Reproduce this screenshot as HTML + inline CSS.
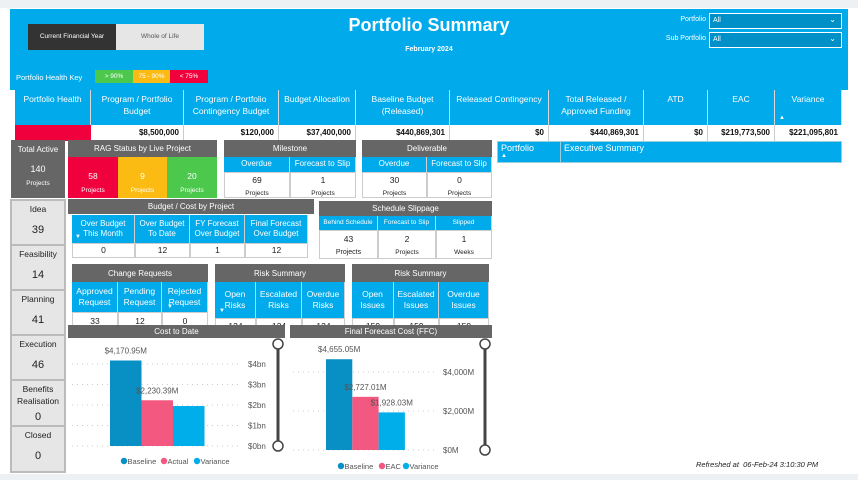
<!DOCTYPE html>
<html><head><meta charset="utf-8">
<style>
body{margin:0;width:858px;height:480px;background:#fff;position:relative;overflow:hidden;font-family:"Liberation Sans",sans-serif;}
.a{position:absolute;box-sizing:border-box;}
.hd{background:#666;color:#fff;font-size:8px;text-align:center;display:flex;align-items:center;justify-content:center;}
.bl{background:#00aaeb;color:#fff;font-size:8px;text-align:center;display:flex;align-items:center;justify-content:center;line-height:1.3;border-right:1px solid #d0d0d0;}
.wc{background:#fff;color:#222;font-size:8.5px;text-align:center;border:1px solid #ccc;}
.th{background:#00aaeb;color:#fff;font-size:8.5px;text-align:center;border-right:1px solid #d8d8d8;padding-top:4px;line-height:1.4;}
.tv{background:#fff;color:#111;font-size:8px;font-weight:bold;text-align:right;padding-right:4px;line-height:16px;border-right:1px solid #ccc;}
.st{background:#e6e6e6;border:1px solid #bbb;font-size:8.5px;color:#222;text-align:center;}
.sm{font-size:6.5px;}
</style></head><body>
<div class="a" style="left:0;top:0;width:858px;height:8px;background:#eef1f4"></div>
<div class="a" style="left:0;top:474px;width:858px;height:6px;background:#eef1f4"></div>
<div class="a" style="left:10px;top:9px;width:838px;height:81px;background:#00aaeb"></div>
<div class="a" style="left:28px;top:24px;width:88px;height:26px;background:#333;color:#fff;font-size:6.5px;text-align:center;line-height:26px">Current Financial Year</div>
<div class="a" style="left:116px;top:24px;width:88px;height:26px;background:#e6e6e6;color:#555;font-size:6.5px;text-align:center;line-height:26px">Whole of Life</div>
<div class="a" style="left:0;top:15px;width:858px;text-align:center;color:#fff;font-size:18px;font-weight:bold">Portfolio Summary</div>
<div class="a" style="left:0;top:46px;width:858px;text-align:center;color:#fff;font-size:7px;font-weight:bold">February 2024</div>
<div class="a" style="left:16px;top:73px;color:#fff;font-size:7.5px">Portfolio Health Key</div>
<div class="a" style="left:95px;top:70px;width:38px;height:13px;background:#4cc84c;color:#fff;font-size:6.5px;text-align:center;line-height:13px">&gt; 90%</div>
<div class="a" style="left:133px;top:70px;width:37px;height:13px;background:#fcbb12;color:#fff;font-size:6.5px;text-align:center;line-height:13px">75 - 90%</div>
<div class="a" style="left:170px;top:70px;width:38px;height:13px;background:#f0003c;color:#fff;font-size:6.5px;text-align:center;line-height:13px">&lt; 75%</div>
<div class="a" style="left:640px;top:16px;width:66px;text-align:right;color:#fff;font-size:7px">Portfolio</div>
<div class="a" style="left:709px;top:13px;width:133px;height:16px;background:#0090c8;border:1px solid #fff;color:#fff;font-size:7px;padding:3px 3px">All<span style="position:absolute;right:5px;top:1px;font-size:8px">&#8964;</span></div>
<div class="a" style="left:640px;top:35px;width:66px;text-align:right;color:#fff;font-size:7px">Sub Portfolio</div>
<div class="a" style="left:709px;top:32px;width:133px;height:16px;background:#0090c8;border:1px solid #fff;color:#fff;font-size:7px;padding:3px 3px">All<span style="position:absolute;right:5px;top:1px;font-size:8px">&#8964;</span></div>

<div class="a" style="left:15px;top:90px;width:827px;height:51px;border:1px solid #ccc"></div>
<div class="a th" style="left:15px;top:90px;width:76px;height:35px">Portfolio Health</div>
<div class="a th" style="left:91px;top:90px;width:93px;height:35px">Program / Portfolio<br>Budget</div>
<div class="a th" style="left:184px;top:90px;width:95px;height:35px">Program / Portfolio<br>Contingency Budget</div>
<div class="a th" style="left:279px;top:90px;width:77px;height:35px">Budget Allocation</div>
<div class="a th" style="left:356px;top:90px;width:94px;height:35px">Baseline Budget<br>(Released)</div>
<div class="a th" style="left:450px;top:90px;width:99px;height:35px">Released Contingency</div>
<div class="a th" style="left:549px;top:90px;width:95px;height:35px">Total Released /<br>Approved Funding</div>
<div class="a th" style="left:644px;top:90px;width:64px;height:35px">ATD</div>
<div class="a th" style="left:708px;top:90px;width:67px;height:35px">EAC</div>
<div class="a th" style="left:775px;top:90px;width:67px;height:35px">Variance<div style="position:absolute;left:4px;top:24px;font-size:6px">&#9650;</div></div>
<div class="a" style="left:15px;top:125px;width:76px;height:16px;background:#f0003c"></div>
<div class="a tv" style="left:91px;top:125px;width:93px;height:16px">$8,500,000</div>
<div class="a tv" style="left:184px;top:125px;width:95px;height:16px">$120,000</div>
<div class="a tv" style="left:279px;top:125px;width:77px;height:16px">$37,400,000</div>
<div class="a tv" style="left:356px;top:125px;width:94px;height:16px">$440,869,301</div>
<div class="a tv" style="left:450px;top:125px;width:99px;height:16px">$0</div>
<div class="a tv" style="left:549px;top:125px;width:95px;height:16px">$440,869,301</div>
<div class="a tv" style="left:644px;top:125px;width:64px;height:16px">$0</div>
<div class="a tv" style="left:708px;top:125px;width:67px;height:16px">$219,773,500</div>
<div class="a tv" style="left:775px;top:125px;width:67px;height:16px;border-right:none">$221,095,801</div>

<div class="a" style="left:11px;top:140px;width:54px;height:58px;background:#666;color:#fff;text-align:center"><div style="font-size:8px;margin-top:5px">Total Active</div><div style="font-size:9px;margin-top:10px">140</div><div class="sm" style="margin-top:6px">Projects</div></div>

<div class="a hd" style="left:68px;top:140px;width:149px;height:17px">RAG Status by Live Project</div>
<div class="a" style="left:68px;top:157px;width:50px;height:41px;background:#f0003c;color:#fff;text-align:center"><div style="font-size:8.5px;margin-top:14px">58</div><div class="sm" style="margin-top:6px">Projects</div></div>
<div class="a" style="left:118px;top:157px;width:49px;height:41px;background:#fcbb12;color:#fff;text-align:center"><div style="font-size:8.5px;margin-top:14px">9</div><div class="sm" style="margin-top:6px">Projects</div></div>
<div class="a" style="left:167px;top:157px;width:50px;height:41px;background:#4cc84c;color:#fff;text-align:center"><div style="font-size:8.5px;margin-top:14px">20</div><div class="sm" style="margin-top:6px">Projects</div></div>

<div class="a hd" style="left:224px;top:140px;width:132px;height:17px">Milestone</div>
<div class="a bl" style="left:224px;top:157px;width:66px;height:15px">Overdue</div>
<div class="a bl" style="left:290px;top:157px;width:66px;height:15px">Forecast to Slip</div>
<div class="a wc" style="left:224px;top:172px;width:66px;height:26px"><div style="margin-top:2px">69</div><div class="sm" style="margin-top:5px">Projects</div></div>
<div class="a wc" style="left:290px;top:172px;width:66px;height:26px"><div style="margin-top:2px">1</div><div class="sm" style="margin-top:5px">Projects</div></div>

<div class="a hd" style="left:362px;top:140px;width:130px;height:17px">Deliverable</div>
<div class="a bl" style="left:362px;top:157px;width:65px;height:15px">Overdue</div>
<div class="a bl" style="left:427px;top:157px;width:65px;height:15px">Forecast to Slip</div>
<div class="a wc" style="left:362px;top:172px;width:65px;height:26px"><div style="margin-top:2px">30</div><div class="sm" style="margin-top:5px">Projects</div></div>
<div class="a wc" style="left:427px;top:172px;width:65px;height:26px"><div style="margin-top:2px">0</div><div class="sm" style="margin-top:5px">Projects</div></div>

<div class="a" style="left:497px;top:141px;width:345px;height:22px;background:#00aaeb;border:1px solid #9cd"></div>
<div class="a" style="left:501px;top:143px;color:#fff;font-size:9px">Portfolio<div style="font-size:6px">&#9650;</div></div>
<div class="a" style="left:560px;top:141px;width:1px;height:22px;background:#9cd"></div>
<div class="a" style="left:564px;top:143px;color:#fff;font-size:9px">Executive Summary</div>

<div class="a" style="left:10px;top:199px;width:56px;height:274px;background:#ddd;border:1px solid #bbb"></div>
<div class="a st" style="left:11px;top:200px;width:54px;height:45px"><div style="margin-top:3px">Idea</div><div style="font-size:11px;margin-top:10px">39</div></div>
<div class="a st" style="left:11px;top:245px;width:54px;height:45px"><div style="margin-top:3px">Feasibility</div><div style="font-size:11px;margin-top:10px">14</div></div>
<div class="a st" style="left:11px;top:290px;width:54px;height:45px"><div style="margin-top:3px">Planning</div><div style="font-size:11px;margin-top:10px">41</div></div>
<div class="a st" style="left:11px;top:335px;width:54px;height:45px"><div style="margin-top:3px">Execution</div><div style="font-size:11px;margin-top:10px">46</div></div>
<div class="a st" style="left:11px;top:380px;width:54px;height:46px"><div style="margin-top:3px;line-height:1.4">Benefits<br>Realisation</div><div style="font-size:11px;margin-top:3px">0</div></div>
<div class="a st" style="left:11px;top:426px;width:54px;height:46px"><div style="margin-top:3px">Closed</div><div style="font-size:11px;margin-top:10px">0</div></div>

<div class="a hd" style="left:68px;top:199px;width:246px;height:15px">Budget / Cost by Project</div>
<div class="a bl" style="left:72px;top:215px;width:63px;height:28px">Over Budget<br>This Month<span style="position:absolute;left:3px;top:19px;font-size:6px">&#9660;</span></div>
<div class="a bl" style="left:135px;top:215px;width:55px;height:28px">Over Budget<br>To Date</div>
<div class="a bl" style="left:190px;top:215px;width:55px;height:28px">FY Forecast<br>Over Budget</div>
<div class="a bl" style="left:245px;top:215px;width:63px;height:28px">Final Forecast<br>Over Budget</div>
<div class="a wc" style="left:72px;top:243px;width:63px;height:15px;line-height:13px">0</div>
<div class="a wc" style="left:135px;top:243px;width:55px;height:15px;line-height:13px">12</div>
<div class="a wc" style="left:190px;top:243px;width:55px;height:15px;line-height:13px">1</div>
<div class="a wc" style="left:245px;top:243px;width:63px;height:15px;line-height:13px">12</div>

<div class="a hd" style="left:319px;top:201px;width:173px;height:15px">Schedule Slippage</div>
<div class="a bl" style="left:319px;top:216px;width:59px;height:14px;font-size:6.5px">Behind Schedule</div>
<div class="a bl" style="left:378px;top:216px;width:58px;height:14px;font-size:6.5px">Forecast to Slip</div>
<div class="a bl" style="left:436px;top:216px;width:56px;height:14px;font-size:6.5px">Slipped</div>
<div class="a wc" style="left:319px;top:230px;width:59px;height:29px"><div style="margin-top:3px">43</div><div style="font-size:7px;margin-top:5px">Projects</div></div>
<div class="a wc" style="left:378px;top:230px;width:58px;height:29px"><div style="margin-top:3px">2</div><div class="sm" style="margin-top:5px">Projects</div></div>
<div class="a wc" style="left:436px;top:230px;width:56px;height:29px"><div style="margin-top:3px">1</div><div class="sm" style="margin-top:5px">Weeks</div></div>

<div class="a hd" style="left:72px;top:264px;width:136px;height:18px">Change Requests</div>
<div class="a bl" style="left:72px;top:282px;width:46px;height:30px;font-size:8.5px">Approved<br>Request</div>
<div class="a bl" style="left:118px;top:282px;width:44px;height:30px;font-size:8.5px">Pending<br>Request</div>
<div class="a bl" style="left:162px;top:282px;width:46px;height:30px;font-size:8.5px">Rejected<br>Request<span style="position:absolute;left:5px;top:22px;font-size:6px">&#9660;</span></div>
<div class="a wc" style="left:72px;top:312px;width:46px;height:13px;line-height:16px;border-bottom:none">33</div>
<div class="a wc" style="left:118px;top:312px;width:44px;height:13px;line-height:16px;border-bottom:none">12</div>
<div class="a wc" style="left:162px;top:312px;width:46px;height:13px;line-height:16px;border-bottom:none">0</div>

<div class="a hd" style="left:215px;top:264px;width:130px;height:18px">Risk Summary</div>
<div class="a bl" style="left:215px;top:282px;width:41px;height:36px;font-size:8.5px">Open<br>Risks<span style="position:absolute;left:4px;top:26px;font-size:6px">&#9660;</span></div>
<div class="a bl" style="left:256px;top:282px;width:46px;height:36px;font-size:8.5px">Escalated<br>Risks</div>
<div class="a bl" style="left:302px;top:282px;width:43px;height:36px;font-size:8.5px">Overdue<br>Risks</div>
<div class="a wc" style="left:215px;top:318px;width:41px;height:8px;line-height:14px;overflow:hidden;border-bottom:none">124</div>
<div class="a wc" style="left:256px;top:318px;width:46px;height:8px;line-height:14px;overflow:hidden;border-bottom:none">124</div>
<div class="a wc" style="left:302px;top:318px;width:43px;height:8px;line-height:14px;overflow:hidden;border-bottom:none">124</div>

<div class="a hd" style="left:352px;top:264px;width:137px;height:18px">Risk Summary</div>
<div class="a bl" style="left:352px;top:282px;width:42px;height:36px;font-size:8.5px">Open<br>Issues</div>
<div class="a bl" style="left:394px;top:282px;width:45px;height:36px;font-size:8.5px">Escalated<br>Issues</div>
<div class="a bl" style="left:439px;top:282px;width:50px;height:36px;font-size:8.5px">Overdue<br>Issues</div>
<div class="a wc" style="left:352px;top:318px;width:42px;height:8px;line-height:14px;overflow:hidden;border-bottom:none">159</div>
<div class="a wc" style="left:394px;top:318px;width:45px;height:8px;line-height:14px;overflow:hidden;border-bottom:none">159</div>
<div class="a wc" style="left:439px;top:318px;width:50px;height:8px;line-height:14px;overflow:hidden;border-bottom:none">159</div>

<div class="a hd" style="left:68px;top:325px;width:217px;height:13px">Cost to Date</div>
<div class="a hd" style="left:290px;top:325px;width:202px;height:13px">Final Forecast Cost (FFC)</div>
<svg class="a" style="left:0;top:0" width="858" height="480" id="charts"></svg>

<div class="a" style="left:696px;top:460px;font-size:7.5px;font-style:italic;color:#222">Refreshed at&nbsp; 06-Feb-24 3:10:30 PM</div>

<script>
const ctdCategories = ["Baseline", "Actual", "Variance"];
const ctdValues = [4170.95, 2230.39, 1950];
const ctdLabels = ["$4,170.95M", "$2,230.39M", ""];
const ctdTicks = [0, 1000, 2000, 3000, 4000];
const ctdTickLabels = ["$0bn", "$1bn", "$2bn", "$3bn", "$4bn"];
const ffcCategories = ["Baseline", "EAC", "Variance"];
const ffcValues = [4655.05, 2727.01, 1928.03];
const ffcLabels = ["$4,655.05M", "$2,727.01M", "$1,928.03M"];
const ffcTicks = [0, 2000, 4000];
const ffcTickLabels = ["$0M", "$2,000M", "$4,000M"];
const colors = ["#088fc4", "#f25880", "#00aeea"];

const svg = document.getElementById('charts');
const NS = 'http://www.w3.org/2000/svg';
function mk(tag, attrs, text){const e=document.createElementNS(NS,tag);for(const k in attrs)e.setAttribute(k,attrs[k]);if(text!==undefined)e.textContent=text;svg.appendChild(e);return e;}

function drawChart(o){
  const y = v => o.y0 - v * o.pxPer;
  o.ticks.forEach((t,i)=>{
    const g=mk('line',{x1:o.gx0,x2:o.gx1,y1:y(t),y2:y(t),stroke:'#ccc','stroke-dasharray':'1,4'});
    
    
    const tl=mk('text',{x:o.tx,y:y(t)+3,'font-size':'8',fill:'#555','font-family':'Liberation Sans, sans-serif'},o.tickLabels[i]);
    
    
  });
  o.values.forEach((v,i)=>{
    const x=o.bx+i*o.bw;
    const r=mk('rect',{x:x,y:y(v),width:o.bw,height:o.y0-y(v),fill:colors[i]});
    
    
    if(o.labels[i]){
      const t=mk('text',{x:x+o.bw/2,y:y(v)-7,'font-size':'8',fill:'#555','text-anchor':'middle','font-family':'Liberation Sans, sans-serif'},o.labels[i]);
      
      
    }
  });
  const s=mk('line',{x1:o.sx,x2:o.sx,y1:o.s0,y2:o.s1,stroke:'#444','stroke-width':'3'});
  
  
  [o.s0,o.s1].forEach(cy=>{
    const c=mk('circle',{cx:o.sx,cy:cy,r:5,fill:'#fff',stroke:'#444','stroke-width':'1.5'});
    
    
  });
  o.cats.forEach((c,i)=>{
    const d=mk('circle',{cx:o.lx[i],cy:o.ly,r:3.2,fill:colors[i]});
    
    
    const t=mk('text',{x:o.lx[i]+3.5,y:o.ly+3,'font-size':'7.5',fill:'#555','font-family':'Liberation Sans, sans-serif'},c);
    
    
  });
}
drawChart({cats:ctdCategories,values:ctdValues,labels:ctdLabels,ticks:ctdTicks,tickLabels:ctdTickLabels,
  y0:446,pxPer:0.0205,gx0:72,gx1:242,tx:248,bx:110,bw:31.5,sx:278,s0:344,s1:446,lx:[124,164,197],ly:461});
drawChart({cats:ffcCategories,values:ffcValues,labels:ffcLabels,ticks:ffcTicks,tickLabels:ffcTickLabels,
  y0:450,pxPer:0.0195,gx0:293,gx1:435,tx:443,bx:326,bw:26.3,sx:485,s0:344,s1:450,lx:[341,382,406],ly:466});
</script>
</body></html>
